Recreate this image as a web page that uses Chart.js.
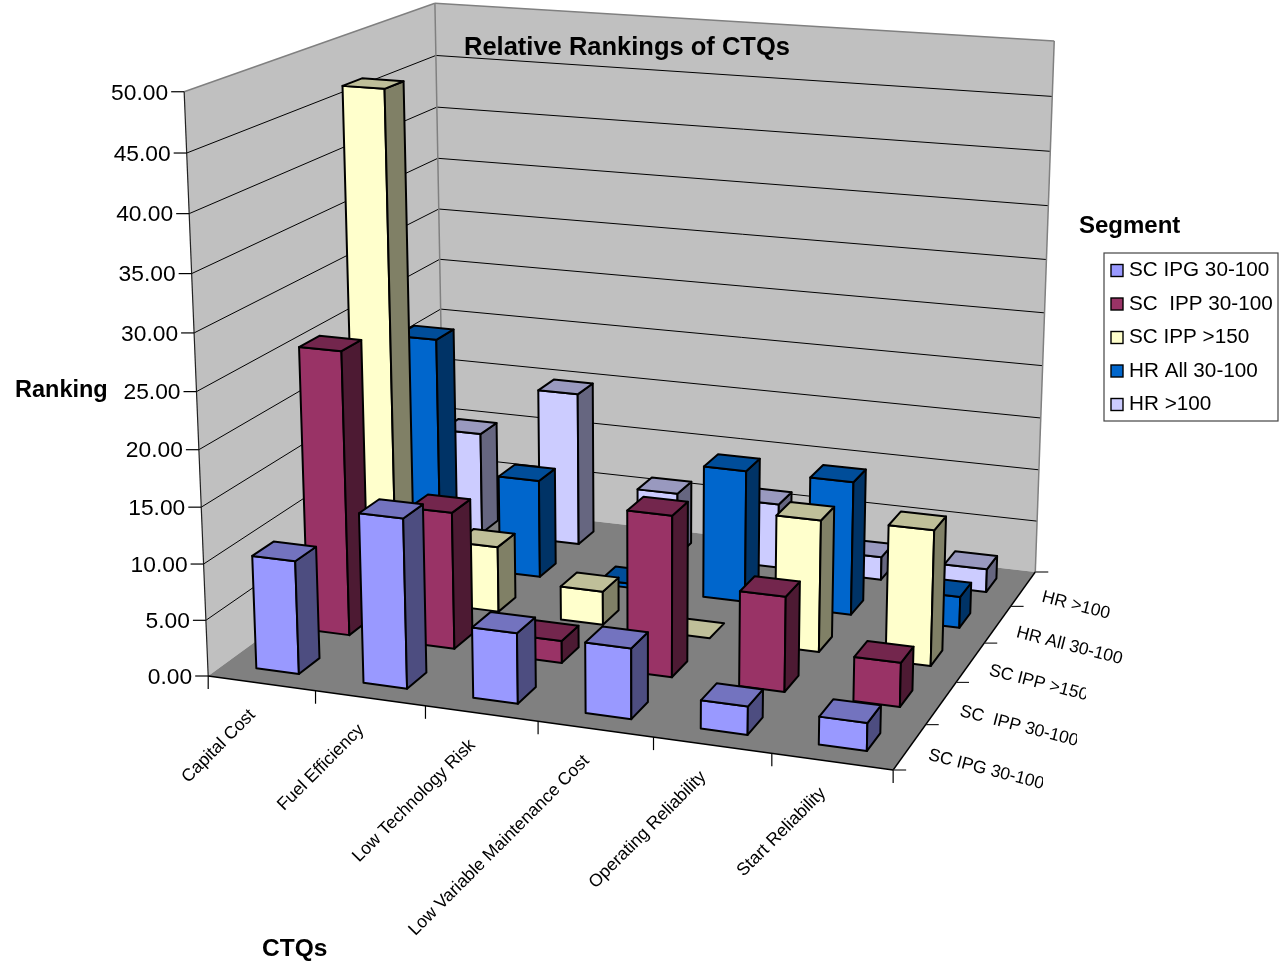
<!DOCTYPE html>
<html lang="en">
<head>
    <meta charset="UTF-8">
    <title>Relative Rankings of CTQs</title>
    <script src="https://cdn.jsdelivr.net/npm/chart.js@4/dist/chart.umd.js"></script>
    <style>
        html, body {margin: 0; background: #fff; overflow: hidden;}
        canvas {display: block;}
    </style>
</head>
<body>
<canvas id="rankingChart" width="1279" height="962"></canvas>
<script>
    const ctqs = ['Capital Cost', 'Fuel Efficiency', 'Low Technology Risk', 'Low Variable Maintenance Cost', 'Operating Reliability', 'Start Reliability'];
    const segments = ['SC IPG 30-100', 'SC  IPP 30-100', 'SC IPP >150', 'HR All 30-100', 'HR >100'];
    const scIpg30 = [10.1, 15, 6.2, 6.15, 2.45, 2.4];
    const scIpp30 = [25.8, 12.4, 2.0, 14.4, 8.45, 3.9];
    const scIpp150 = [46.8, 6.1, 3.1, 0, 12, 12.25];
    const hrAll30 = [21.8, 9.3, 0.4, 12.4, 12.45, 2.9];
    const hr100 = [9.95, 14.9, 6.15, 6.2, 2.2, 2.2];
    const seriesValues = [scIpg30, scIpp30, scIpp150, hrAll30, hr100];
    const seriesColors = ['#9999FF', '#993366', '#FFFFCC', '#0066CC', '#CCCCFF'];
    const valueMax = 50;
    const valueStep = 5;

    // camera: (u, v, h, 1) in unit cube -> homogeneous canvas position
    const camera = [
        [621.67, 314.35, -33.56, 208.2],
        [39.45, -83.26, -589, 676],
        [-0.07084, 0.17607, -0.0517, 1]
    ];
    const font = '"Liberation Sans", Arial, sans-serif';
    const barHalf = 0.2; // 150% gap in both directions

    function project(u, v, h) {
        const r = camera.map(m => m[0] * u + m[1] * v + m[2] * h + m[3]);
        return [r[0] / r[2], r[1] / r[2]];
    }

    function shade(hex, k) {
        const n = parseInt(hex.slice(1), 16);
        return `rgb(${Math.round((n >> 16) * k)}, ${Math.round(((n >> 8) & 255) * k)}, ${Math.round((n & 255) * k)})`;
    }

    function poly(ctx, pts, fill, stroke) {
        ctx.beginPath();
        pts.forEach((p, i) => i ? ctx.lineTo(p[0], p[1]) : ctx.moveTo(p[0], p[1]));
        ctx.closePath();
        if (fill) {
            ctx.fillStyle = fill;
            ctx.fill();
        }
        if (stroke) {
            ctx.strokeStyle = stroke;
            ctx.stroke();
        }
    }

    function line(ctx, a, b, color, width) {
        ctx.beginPath();
        ctx.moveTo(a[0], a[1]);
        ctx.lineTo(b[0], b[1]);
        ctx.strokeStyle = color;
        ctx.lineWidth = width;
        ctx.stroke();
    }

    const frac = (scale, value) => (scale.getPixelForValue(value) - scale.left) / scale.width;
    const fracY = (scale, value) => (scale.bottom - scale.getPixelForValue(value)) / scale.height;

    // bar controller that paints each value as a box on the floor of the cube
    class Box3dController extends Chart.BarController {
        draw() {
            const {ctx, scales} = this.chart;
            const dataset = this.getDataset();
            const color = dataset.backgroundColor;
            const v0 = frac(scales.z, this.index - barHalf);
            const v1 = frac(scales.z, this.index + barHalf);
            ctx.save();
            ctx.lineWidth = 2;
            ctx.lineJoin = 'round';
            dataset.data.forEach((value, i) => {
                const u0 = frac(scales.x, i - barHalf);
                const u1 = frac(scales.x, i + barHalf);
                const h = fracY(scales.y, value);
                const top = [project(u0, v0, h), project(u1, v0, h), project(u1, v1, h), project(u0, v1, h)];
                // a zero value leaves only its flat top on the floor
                if (value !== 0) {
                    poly(ctx, [project(u0, v0, 0), project(u1, v0, 0), top[1], top[0]], color, '#000');
                    poly(ctx, [project(u1, v0, 0), project(u1, v1, 0), top[2], top[1]], shade(color, 0.5), '#000');
                }
                poly(ctx, top, shade(color, 0.75), '#000');
            });
            ctx.restore();
        }
    }
    Box3dController.id = 'box3d';
    Box3dController.defaults = Chart.BarController.defaults;
    Box3dController.overrides = Chart.BarController.overrides;
    Chart.register(Box3dController);

    const cubePlugin = {
        id: 'cube',
        beforeDatasetsDraw(chart) {
            const {ctx, scales} = chart;
            ctx.save();
            // walls and floor
            poly(ctx, [project(0, 0, 0), project(0, 1, 0), project(0, 1, 1), project(0, 0, 1)], '#C0C0C0');
            poly(ctx, [project(0, 1, 0), project(1, 1, 0), project(1, 1, 1), project(0, 1, 1)], '#C0C0C0');
            poly(ctx, [project(0, 0, 0), project(1, 0, 0), project(1, 1, 0), project(0, 1, 0)], '#808080');
            scales.y.ticks.forEach(t => {
                const h = fracY(scales.y, t.value);
                if (t.value > 0 && t.value < valueMax) {
                    line(ctx, project(0, 0, h), project(0, 1, h), '#000', 1);
                    line(ctx, project(0, 1, h), project(1, 1, h), '#000', 1);
                }
            });
            line(ctx, project(0, 0, 1), project(0, 1, 1), '#808080', 1.5);
            line(ctx, project(0, 1, 1), project(1, 1, 1), '#808080', 1.5);
            line(ctx, project(0, 1, 0), project(0, 1, 1), '#808080', 1.5);
            line(ctx, project(1, 1, 0), project(1, 1, 1), '#808080', 1.5);
            line(ctx, project(0, 0, 0), project(0, 0, 1), '#222', 1.2);
            line(ctx, project(0, 0, 0), project(1, 0, 0), '#000', 1.4);
            line(ctx, project(1, 0, 0), project(1, 1, 0), '#000', 1.4);
            // tick marks
            scales.y.ticks.forEach(t => {
                const p = project(0, 0, fracY(scales.y, t.value));
                line(ctx, [p[0] - 13, p[1]], p, '#000', 1.2);
            });
            ctqs.forEach((c, i) => {
                const p = project(frac(scales.x, i - 0.5), 0, 0);
                line(ctx, p, [p[0], p[1] + 13], '#000', 1.2);
            });
            line(ctx, project(1, 0, 0), [project(1, 0, 0)[0], project(1, 0, 0)[1] + 13], '#000', 1.2);
            segments.forEach((s, j) => {
                const p = project(1, frac(scales.z, j - 0.5), 0);
                line(ctx, p, [p[0] + 13, p[1]], '#222', 1.2);
            });
            const backCorner = project(1, 1, 0);
            line(ctx, backCorner, [backCorner[0] + 13, backCorner[1]], '#222', 1.2);
            ctx.restore();
        },
        afterDatasetsDraw(chart) {
            const {ctx, scales} = chart;
            ctx.save();
            ctx.fillStyle = '#000';
            ctx.textBaseline = 'middle';

            // value axis
            ctx.font = '22.8px ' + font;
            ctx.textAlign = 'right';
            scales.y.ticks.forEach(t => {
                const p = project(0, 0, fracY(scales.y, t.value));
                ctx.fillText(t.label, p[0] - 16, p[1] + 1.5);
            });

            // category labels, rising to the right
            ctx.font = '17.6px ' + font;
            ctqs.forEach((c, i) => {
                const p = project(frac(scales.x, i), 0, 0);
                ctx.save();
                ctx.translate(p[0] - 9, p[1] + 29);
                ctx.rotate(-Math.PI / 4);
                ctx.fillText(c, 0, 0);
                ctx.restore();
            });

            // segment labels along the right edge of the floor
            const segmentCut = [1043, 1077, 1086, 0, 0];
            ctx.font = '17.5px ' + font;
            ctx.textAlign = 'left';
            segments.forEach((s, j) => {
                const p = project(1, frac(scales.z, j), 0);
                ctx.save();
                if (segmentCut[j]) {
                    ctx.beginPath();
                    ctx.rect(0, 0, segmentCut[j], chart.height);
                    ctx.clip();
                }
                ctx.translate(p[0] + 19, p[1] + 8);
                ctx.rotate(14.4 * Math.PI / 180);
                ctx.fillText(s, 0, 0);
                ctx.restore();
            });

            // titles
            ctx.font = 'bold 25.5px ' + font;
            ctx.fillText('Relative Rankings of CTQs', 464, 48);
            ctx.font = 'bold 24px ' + font;
            ctx.fillText('Segment', 1079, 226.5);
            ctx.font = 'bold 23.5px ' + font;
            ctx.fillText('Ranking', 15, 391);
            ctx.font = 'bold 24.5px ' + font;
            ctx.fillText('CTQs', 262, 949.5);

            // legend
            ctx.strokeStyle = '#444';
            ctx.lineWidth = 1.2;
            ctx.strokeRect(1104, 253, 174, 168);
            ctx.font = '20.7px ' + font;
            chart.data.datasets.forEach((d, j) => {
                const y = 270 + j * 33.5;
                ctx.fillStyle = d.backgroundColor;
                ctx.fillRect(1111, y - 5.5, 12, 12);
                ctx.strokeStyle = '#000';
                ctx.lineWidth = 1.4;
                ctx.strokeRect(1111, y - 5.5, 12, 12);
                ctx.fillStyle = '#000';
                ctx.fillText(d.label, 1129, y + 0.5);
            });
            ctx.restore();
        }
    };

    new Chart(document.getElementById('rankingChart'), {
        type: 'box3d',
        data: {
            labels: ctqs,
            datasets: segments.map((s, j) => ({
                label: s,
                data: seriesValues[j],
                backgroundColor: seriesColors[j],
                clip: false
            }))
        },
        options: {
            responsive: false,
            animation: false,
            plugins: {legend: {display: false}, title: {display: false}, tooltip: {enabled: false}},
            scales: {
                x: {type: 'category', offset: true, display: false},
                z: {type: 'category', labels: segments, offset: true, display: false, axis: 'x'},
                y: {
                    type: 'linear',
                    min: 0,
                    max: valueMax,
                    display: false,
                    ticks: {stepSize: valueStep, autoSkip: false, callback: v => v.toFixed(2)}
                }
            }
        },
        plugins: [cubePlugin]
    });
</script>
</body>
</html>
